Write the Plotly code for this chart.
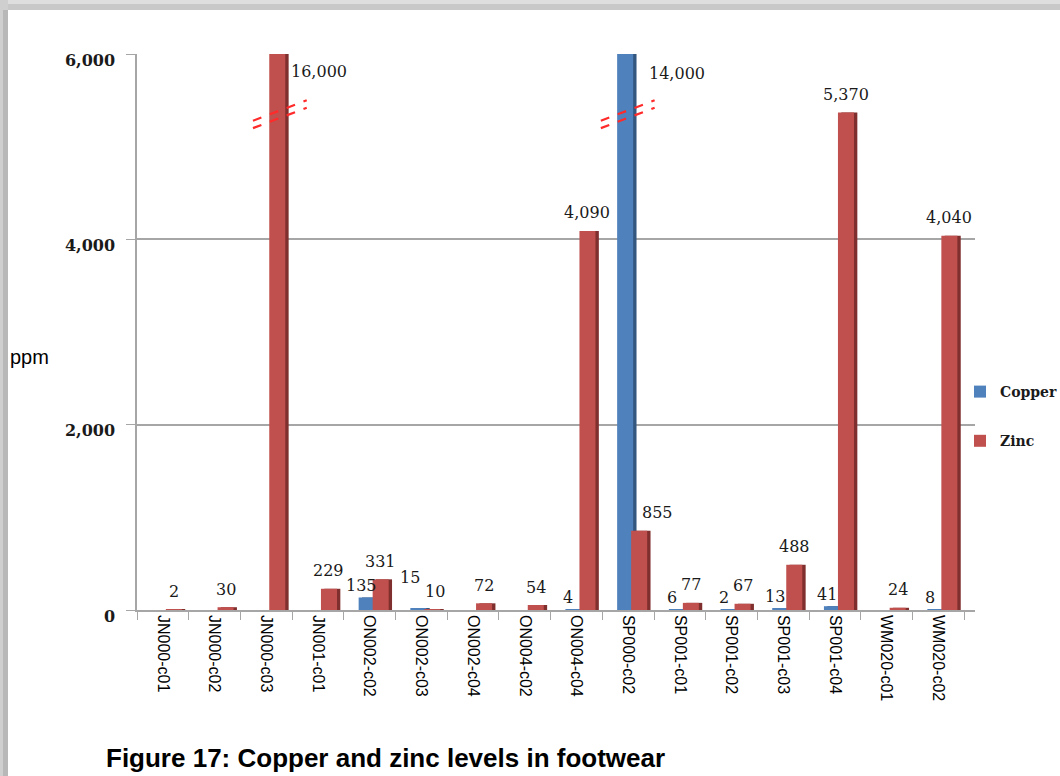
import plotly.graph_objects as go

categories = ["JN000-c01", "JN000-c02", "JN000-c03", "JN001-c01", "ON002-c02",
              "ON002-c03", "ON002-c04", "ON004-c02", "ON004-c04", "SP000-c02",
              "SP001-c01", "SP001-c02", "SP001-c03", "SP001-c04", "WM020-c01",
              "WM020-c02"]
copper = [None, None, None, None, 135, 15, None, None, 4, 14000, 6, 2, 13, 41, None, 8]
zinc = [2, 30, 16000, 229, 331, 10, 72, 54, 4090, 855, 77, 67, 488, 5370, 24, 4040]
y_ticks = [0, 2000, 4000, 6000]
AXIS_MAX = 6000  # bars above this are broken (drawn truncated)

BLUE, BLUE_SIDE = "#4F81BD", "#34577f"
RED, RED_SIDE = "#C0504D", "#7f2f2d"
LABEL_FONT = dict(family="DejaVu Serif", size=16, color="#1a1a1a")

# layout geometry (pixels)
PL, PR, PT, PB = 137, 975, 54, 610
CAT_W = 51.7
X_RANGE = [-0.5, -0.5 + (PR - PL) / CAT_W]

# bar placement (category units)
BAR_W = 0.31
SIDE = 0.065
OFF = {"Copper": -0.213, "Zinc": 0.058}
# default label offsets (px) and per-label nudges
LBL = {"Copper": (-8, 12), "Zinc": (11, 18)}
NUDGE = {("Copper", "ON002-c03"): (-3, 19), ("Zinc", "ON002-c03"): (3, 0),
         ("Zinc", "SP000-c02"): (18, 0)}


def shown(vals):
    return [None if v is None else min(v, AXIS_MAX) for v in vals]


fig = go.Figure()
for name, vals, col, side in (("Copper", copper, BLUE, BLUE_SIDE), ("Zinc", zinc, RED, RED_SIDE)):
    fig.add_trace(go.Bar(
        x=categories, y=shown(vals), offset=OFF[name] + SIDE, width=BAR_W,
        marker=dict(color=side, line=dict(width=0)), showlegend=False,
        legendgroup=name, hoverinfo="skip", cliponaxis=False,
    ))
    fig.add_trace(go.Bar(
        name=name, x=categories, y=shown(vals), offset=OFF[name], width=BAR_W,
        marker=dict(color=col, line=dict(width=0)), legendgroup=name,
        cliponaxis=False,
    ))

shapes = []
annotations = []
for name, vals in (("Copper", copper), ("Zinc", zinc)):
    for i, v in enumerate(vals):
        if v is None:
            continue
        cat = categories[i]
        if v > AXIS_MAX:
            cx = i + OFF[name] + BAR_W / 2
            for dy in (0, 80):
                shapes.append(dict(
                    type="line", xref="x", yref="y",
                    x0=cx - 0.47, y0=5200 + dy, x1=cx + 0.57, y1=5420 + dy,
                    line=dict(color="#ff2a2a", width=2.2, dash="dash"),
                ))
            annotations.append(dict(
                x=cat, y=AXIS_MAX, xref="x", yref="y", text=f"{v:,}",
                showarrow=False, xanchor="left", yanchor="middle",
                xshift=23 if name == "Zinc" else 19,
                yshift=-17 if name == "Zinc" else -19, font=LABEL_FONT,
            ))
        else:
            dx, dy = LBL[name]
            ndx, ndy = NUDGE.get((name, cat), (0, 0))
            annotations.append(dict(
                x=cat, y=v, xref="x", yref="y", text=f"{v:,}",
                showarrow=False, xanchor="center", yanchor="middle",
                xshift=dx + ndx, yshift=dy + ndy, font=LABEL_FONT,
            ))


def px_to_paper_x(px):
    return (px - PL) / float(PR - PL)


def px_to_paper_y(py):
    return (PB - py) / float(PB - PT)


# page frame (grey shadow band at top and left)
for (x0, y0, x1, y1, col) in [
    (0, 0, 1060, 10, "#dedede"),
    (0, 4, 1060, 10, "#c8c8c8"),
    (0, 0, 8, 776, "#cfcfcf"),
    (3, 10, 8, 776, "#b8b8b8"),
]:
    shapes.append(dict(
        type="rect", xref="paper", yref="paper",
        x0=px_to_paper_x(x0), x1=px_to_paper_x(x1),
        y0=px_to_paper_y(y1), y1=px_to_paper_y(y0),
        fillcolor=col, line=dict(width=0), layer="below",
    ))

annotations.append(dict(
    text="ppm", xref="paper", yref="paper", x=px_to_paper_x(8), y=px_to_paper_y(357),
    xanchor="left", yanchor="middle", showarrow=False,
    font=dict(family="Liberation Sans", size=20, color="#000000"),
))
annotations.append(dict(
    text="<b>Figure 17: Copper and zinc levels in footwear</b>", xref="paper", yref="paper",
    x=px_to_paper_x(104), y=px_to_paper_y(758), xanchor="left", yanchor="middle",
    showarrow=False, font=dict(family="Liberation Sans", size=26, color="#000000"),
))

fig.update_layout(
    width=1060, height=776,
    margin=dict(l=PL, r=1060 - PR, t=PT, b=776 - PB, autoexpand=False),
    paper_bgcolor="#ffffff", plot_bgcolor="#ffffff",
    barmode="overlay",
    showlegend=True,
    legend=dict(
        x=px_to_paper_x(960), y=px_to_paper_y(376), xanchor="left", yanchor="top",
        traceorder="grouped", tracegroupgap=28,
        font=dict(family="DejaVu Serif", size=14, color="#1a1a1a", weight="bold"),
        bgcolor="rgba(0,0,0,0)", itemwidth=30,
    ),
    shapes=shapes, annotations=annotations,
)
fig.update_yaxes(
    range=[0, AXIS_MAX], tickvals=y_ticks, tickformat=",",
    showgrid=True, gridcolor="#a6a6a6", gridwidth=1.5,
    showline=True, linecolor="#a6a6a6", linewidth=1.5,
    ticks="outside", ticklen=9, tickcolor="#a6a6a6",
    ticklabelshift=6, ticklabelstandoff=8,
    tickfont=dict(family="DejaVu Serif", size=16, color="#1a1a1a", weight="bold"),
    zeroline=False,
)
fig.update_xaxes(
    range=X_RANGE, tickangle=90, tickson="boundaries", ticks="outside", ticklen=8,
    tickcolor="#a6a6a6", showline=True, linecolor="#a6a6a6", linewidth=1.5,
    tickfont=dict(family="Liberation Sans", size=16, color="#000000"),
)

fig.write_html("out.html", config={"displayModeBar": False},
               post_script="document.body.style.margin='0';")
